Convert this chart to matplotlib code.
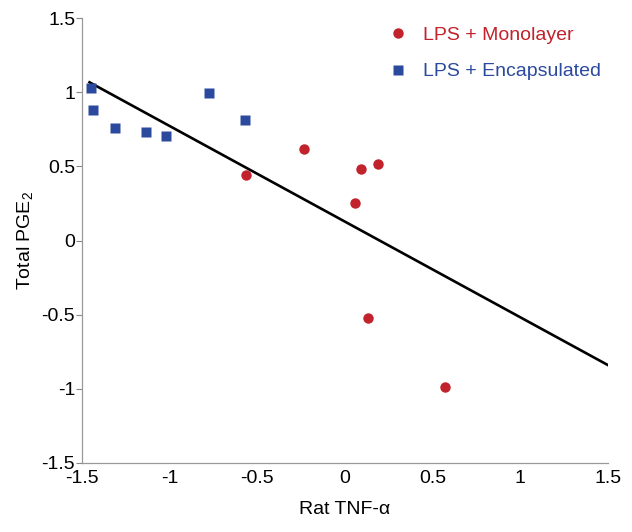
import matplotlib.pyplot as plt

plt.rcParams['font.family'] = ['Liberation Sans', 'DejaVu Sans']
plt.rcParams['axes.unicode_minus'] = False
plt.rcParams['mathtext.fontset'] = 'custom'
plt.rcParams['mathtext.rm'] = 'Liberation Sans'

# Datos
mono_x = [-0.565, -0.234, 0.091, 0.188, 0.057, 0.131, 0.570]
mono_y = [0.442, 0.617, 0.482, 0.516, 0.253, -0.523, -0.988]

enc_x = [-1.449, -1.440, -1.312, -1.135, -1.021, -0.776, -0.570]
enc_y = [1.028, 0.877, 0.759, 0.732, 0.705, 0.995, 0.813]

# Recta de ajuste (extremos)
fit_x = [-1.458, 1.5]
fit_y = [1.067, -0.840]

ticks = [-1.5, -1, -0.5, 0, 0.5, 1, 1.5]
tick_labels = ['-1.5', '-1', '-0.5', '0', '0.5', '1', '1.5']

red = '#C1222B'
blue = '#2B4A9E'

fig = plt.figure(figsize=(6.32, 5.32), dpi=100)
ax = fig.add_axes([0.130, 0.1297, 0.832, 0.8363])

ax.plot(fit_x, fit_y, color='black', lw=1.9, zorder=2)
ax.plot(mono_x, mono_y, 'o', color=red, ms=7.5, mec='none', label='LPS + Monolayer', zorder=3)
ax.plot(enc_x, enc_y, 's', color=blue, ms=7.5, mec='none', label='LPS + Encapsulated', zorder=3)

ax.set_xlim(-1.5, 1.5)
ax.set_ylim(-1.5, 1.5)
ax.set_xticks(ticks)
ax.set_xticklabels(tick_labels)
ax.set_yticks(ticks)
ax.set_yticklabels(tick_labels)
ax.tick_params(axis='x', length=0, pad=5, labelsize=14)
ax.tick_params(axis='y', length=4, width=0.8, color='#888888', pad=1, labelsize=14)

for s in ['top', 'right']:
    ax.spines[s].set_visible(False)
for s in ['left', 'bottom']:
    ax.spines[s].set_color('#999999')
    ax.spines[s].set_linewidth(0.9)

ax.set_xlabel('Rat TNF-α', fontsize=14, labelpad=10)
ax.set_ylabel('Total PGE$_2$', fontsize=14, labelpad=4)

leg = ax.legend(loc='upper right', frameon=False, fontsize=14, handletextpad=0.3,
                labelspacing=0.95, bbox_to_anchor=(1.02, 1.02), labelcolor='markerfacecolor',
                numpoints=1)

fig.savefig('out.png', dpi=100)
